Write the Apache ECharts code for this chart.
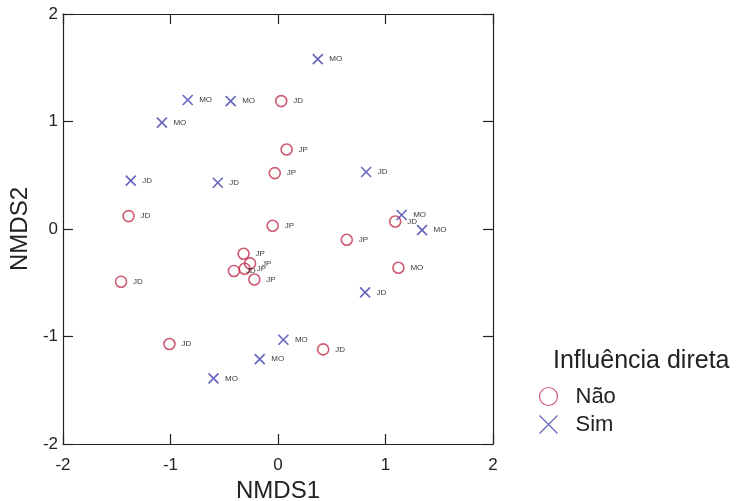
<!DOCTYPE html>
<html><head><meta charset="utf-8">
<script src="https://cdn.jsdelivr.net/npm/echarts@6/dist/echarts.min.js"></script>
<style>html,body{margin:0;padding:0;background:#fff}#c{width:736px;height:501px}</style>
</head><body><div id="c"></div>
<script>
// Não (circles)
const naoX = [0.03, 0.08, -0.03, -1.39, -0.05, -1.46, -0.32, -0.26, -0.41, -0.31, -0.22, 1.09, 0.64, 1.12, -1.01, 0.42];
const naoY = [1.19, 0.74, 0.52, 0.12, 0.03, -0.49, -0.23, -0.32, -0.39, -0.37, -0.47, 0.07, -0.10, -0.36, -1.07, -1.12];
const naoLab = ['JD','JP','JP','JD','JP','JD','JP','JP','JD','JP','JP','JD','JP','MO','JD','JD'];
// Sim (crosses)
const simX = [0.37, -0.84, -0.44, -1.08, -1.37, -0.56, 0.82, 1.15, 1.34, 0.81, 0.05, -0.17, -0.60];
const simY = [1.58, 1.20, 1.19, 0.99, 0.45, 0.43, 0.53, 0.13, -0.01, -0.59, -1.03, -1.21, -1.39];
const simLab = ['MO','MO','MO','MO','JD','JD','JD','MO','MO','JD','MO','MO','MO'];
const axisTicks = [-2, -1, 0, 1, 2];
const legendTitle = 'Influência direta';
const seriesNames = ['Não', 'Sim'];

const crossPath = 'path://M0,0L10,10M10,0L0,10';
const redC = '#c2304f', blueC = '#3f3fae';
const mk = (xs, ys, ls) => xs.map((x, i) => ({value: [x, ys[i]], name: ls[i]}));
const font = 'Liberation Sans, Arial, sans-serif';
const gridL = 63, gridR = 243, gridT = 14, gridB = 57;
const axisCommon = (pos) => ({
  type: 'value', min: -2, max: 2, interval: 1, position: pos,
  axisLine: {show: true, onZero: false, lineStyle: {color: '#222', width: 1.2}},
  axisTick: {show: true, inside: true, length: 10, lineStyle: {color: '#222', width: 1.2}},
  splitLine: {show: false}
});
const labelStyle = {show: true, position: 'right', distance: 4, formatter: p => p.data.name,
  fontSize: 8, color: '#000', fontFamily: font};
const chart = echarts.init(document.getElementById('c'));
chart.setOption({
  animation: false,
  backgroundColor: '#fff',
  grid: {left: gridL, right: gridR, top: gridT, bottom: gridB, containLabel: false, outerBoundsMode: 'none'},
  title: {text: legendTitle, left: 553, top: 349, padding: 0,
    textStyle: {fontSize: 25, fontWeight: 'normal', color: '#222', fontFamily: font}},
  legend: {orient: 'vertical', left: 537, top: 385, itemGap: 5, itemWidth: 18, itemHeight: 18, padding: 0,
    data: [
      {name: seriesNames[0], icon: 'circle', itemStyle: {color: 'none', borderColor: redC, borderWidth: 1.2}},
      {name: seriesNames[1], icon: crossPath, itemStyle: {color: 'none', borderColor: blueC, borderWidth: 1.2}}
    ],
    textStyle: {fontSize: 22, color: '#222', fontFamily: font, padding: [0,0,0,13]}},
  xAxis: [
    Object.assign(axisCommon('bottom'), {
      name: 'NMDS1', nameLocation: 'middle', nameGap: 29,
      nameTextStyle: {fontSize: 24, color: '#222', fontFamily: font},
      axisLabel: {fontSize: 17, color: '#222', fontFamily: font, margin: 13,
        formatter: v => axisTicks.includes(v) ? String(v) : ''}
    }),
    Object.assign(axisCommon('top'), {axisLabel: {show: false}})
  ],
  yAxis: [
    Object.assign(axisCommon('left'), {
      name: 'NMDS2', nameLocation: 'middle', nameGap: 20,
      nameTextStyle: {fontSize: 24, color: '#222', fontFamily: font},
      axisLabel: {fontSize: 17, color: '#222', fontFamily: font, margin: 5}
    }),
    Object.assign(axisCommon('right'), {axisLabel: {show: false}})
  ],
  series: [
    {name: seriesNames[0], type: 'scatter', xAxisIndex: 0, yAxisIndex: 0,
      data: mk(naoX, naoY, naoLab), symbol: 'circle', symbolSize: 11,
      itemStyle: {color: 'none', borderColor: redC, borderWidth: 1.6},
      label: labelStyle},
    {name: seriesNames[1], type: 'scatter', xAxisIndex: 0, yAxisIndex: 0,
      data: mk(simX, simY, simLab), symbol: crossPath, symbolSize: 10,
      itemStyle: {color: 'none', borderColor: blueC, borderWidth: 1.6},
      label: labelStyle}
  ]
});
</script></body></html>
